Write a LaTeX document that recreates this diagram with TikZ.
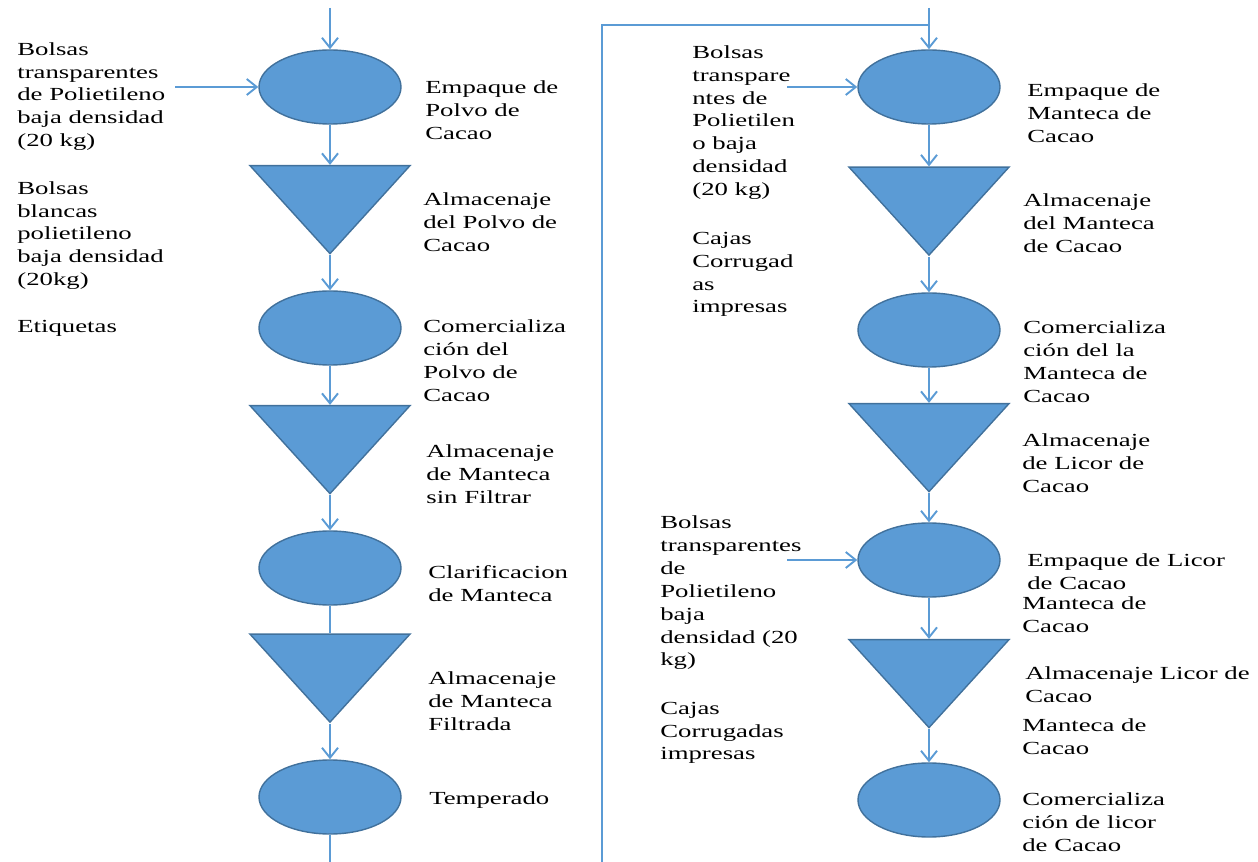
\documentclass[tikz,border=0pt]{standalone}
\usepackage{fontspec}
\setmainfont{Liberation Serif}[FakeStretch=1.45]
\usetikzlibrary{shapes.geometric}
\usetikzlibrary{arrows.meta}
\definecolor{azul}{HTML}{5B9BD5}
\definecolor{borde}{HTML}{41719C}
\tikzset{%
  proceso/.style = {ellipse, draw = borde, fill = azul, line width = 0.8pt,
    minimum width = 2.84cm, minimum height = 1.48cm, inner sep = 0pt},
  almacen/.style = {isosceles triangle, isosceles triangle stretches,
    shape border rotate = 270, draw = borde, fill = azul, line width = 0.8pt,
    minimum width = 3.2cm, minimum height = 1.76cm, inner sep = 0pt},
  flujo/.style   = {draw = azul, line width = 1.1pt,
    -{Straight Barb[length = 2mm, width = 3.2mm]}},
  linea/.style   = {draw = azul, line width = 1.1pt},
  texto/.style   = {anchor = west, align = left, inner sep = 0pt,
    font = \fontsize{10.5}{13}\selectfont}
}
\begin{document}
\begin{tikzpicture}
    \useasboundingbox (0, 0) rectangle (25.16, -17.24);

    %polvo de cacao
    \node[proceso] (e1) at (6.6, -1.74) {};
    \node[almacen] (t1) at (6.6, -4.02) {};
    \node[proceso] (e2) at (6.6, -6.56) {};
    \node[almacen] (t2) at (6.6, -8.82) {};
    \node[proceso] (e3) at (6.6, -11.36) {};
    \node[almacen] (t3) at (6.6, -13.39) {};
    \node[proceso] (e4) at (6.6, -15.94) {};
    \coordinate (ini1) at (6.6, -0.16);
    \coordinate (fin1) at (6.6, -17.24);
    \coordinate (ent1) at (3.5, -1.74);
    \draw[flujo] (ini1) -- (e1.north);
    \draw[flujo] (ent1) -- (e1.west);
    \draw[flujo] (e1.south) -- (t1.north);
    \draw[flujo] (t1.apex) -- (e2.north);
    \draw[flujo] (e2.south) -- (t2.north);
    \draw[flujo] (t2.apex) -- (e3.north);
    \draw[linea] (e3.south) -- (t3.north);
    \draw[flujo] (t3.apex) -- (e4.north);
    \draw[linea] (e4.south) -- (fin1);

    \node[texto] (b1) at (0.34, -1.93) {Bolsas\\transparentes\\de Polietileno\\baja densidad\\(20 kg)};
    \node[texto] (b2) at (0.34, -4.71) {Bolsas\\blancas\\polietileno\\baja densidad\\(20kg)};
    \node[texto] (b3) at (0.34, -6.56) {Etiquetas};

    \node[texto] (l1) at (8.5, -2.2) {Empaque de\\Polvo de\\Cacao};
    \node[texto] (l2) at (8.46, -4.44) {Almacenaje\\del Polvo de\\Cacao};
    \node[texto] (l3) at (8.46, -7.21) {Comercializa\\ción del\\Polvo de\\Cacao};
    \node[texto] (l4) at (8.52, -9.48) {Almacenaje\\de Manteca\\sin Filtrar};
    \node[texto] (l5) at (8.56, -11.67) {Clarificacion\\de Manteca};
    \node[texto] (l6) at (8.56, -14.02) {Almacenaje\\de Manteca\\Filtrada};
    \node[texto] (l7) at (8.58, -16.0) {Temperado};

    %separacion
    \coordinate (sep) at (12.04, -17.24);
    \coordinate (cruce) at (18.58, -0.5);
    \draw[linea] (sep) |- (cruce);

    %manteca y licor de cacao
    \node[proceso] (r1) at (18.58, -1.74) {};
    \node[almacen] (s1) at (18.58, -4.05) {};
    \node[proceso] (r2) at (18.58, -6.6) {};
    \node[almacen] (s2) at (18.58, -8.78) {};
    \node[proceso] (r3) at (18.58, -11.2) {};
    \node[almacen] (s3) at (18.58, -13.5) {};
    \node[proceso] (r4) at (18.58, -16.0) {};
    \coordinate (ini2) at (18.58, -0.16);
    \coordinate (ent2) at (15.74, -1.74);
    \coordinate (ent3) at (15.74, -11.2);
    \draw[flujo] (ini2) -- (r1.north);
    \draw[flujo] (ent2) -- (r1.west);
    \draw[flujo] (r1.south) -- (s1.north);
    \draw[flujo] (s1.apex) -- (r2.north);
    \draw[flujo] (r2.south) -- (s2.north);
    \draw[flujo] (s2.apex) -- (r3.north);
    \draw[flujo] (ent3) -- (r3.west);
    \draw[flujo] (r3.south) -- (s3.north);
    \draw[flujo] (s3.apex) -- (r4.north);

    \node[texto] (c1) at (13.84, -2.45) {Bolsas\\transpare\\ntes de\\Polietilen\\o baja\\densidad\\(20 kg)};
    \node[texto] (c2) at (13.84, -5.49) {Cajas\\Corrugad\\as\\impresas};
    \node[texto] (c3) at (13.2, -11.86) {Bolsas\\transparentes\\de\\Polietileno\\baja\\densidad (20\\kg)};
    \node[texto] (c4) at (13.2, -14.66) {Cajas\\Corrugadas\\impresas};

    \node[texto] (m1) at (20.54, -2.26) {Empaque de\\Manteca de\\Cacao};
    \node[texto] (m2) at (20.46, -4.46) {Almacenaje\\del Manteca\\de Cacao};
    \node[texto] (m3) at (20.46, -7.23) {Comercializa\\ción del la\\Manteca de\\Cacao};
    \node[texto] (m4) at (20.44, -9.26) {Almacenaje\\de Licor de\\Cacao};
    \node[texto] (m5) at (20.54, -11.43) {Empaque de Licor\\de Cacao};
    \node[texto] (m6) at (20.44, -12.29) {Manteca de\\Cacao};
    \node[texto] (m7) at (20.5, -13.69) {Almacenaje Licor de\\Cacao};
    \node[texto] (m8) at (20.44, -14.73) {Manteca de\\Cacao};
    \node[texto] (m9) at (20.44, -16.44) {Comercializa\\ción de licor\\de Cacao};
\end{tikzpicture}
\end{document}
